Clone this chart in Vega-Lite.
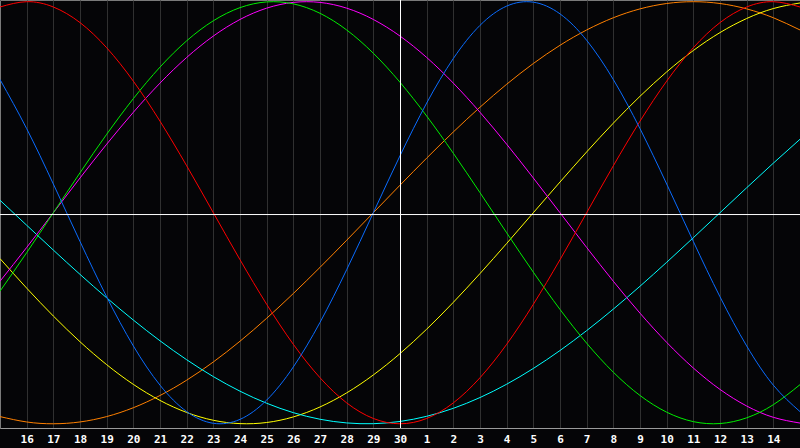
{
  "$schema": "https://vega.github.io/schema/vega-lite/v6.json",
  "width": 800,
  "height": 428,
  "autosize": "none",
  "padding": {"left": 0, "top": 0, "right": 0, "bottom": 20},
  "background": "#050507",
  "config": {"view": {"stroke": "#7a7a7a", "strokeWidth": 1}},
  "datasets": {
    "bio": [
      {"day": 0, "physical": 0.6311, "emotional": 0.9749, "intellectual": -0.3717, "intuitive": -0.3247, "aesthetic": -0.2174, "awareness": -0.9659, "spiritual": 0.0592},
      {"day": 1, "physical": 0.3984, "emotional": 1, "intellectual": -0.1893, "intuitive": -0.1646, "aesthetic": -0.3572, "awareness": -0.9914, "spiritual": -0.0592},
      {"day": 2, "physical": 0.1362, "emotional": 0.9749, "intellectual": 0, "intuitive": 0, "aesthetic": -0.4894, "awareness": -1, "spiritual": -0.1769},
      {"day": 3, "physical": -0.1362, "emotional": 0.901, "intellectual": 0.1893, "intuitive": 0.1646, "aesthetic": -0.6112, "awareness": -0.9914, "spiritual": -0.2921},
      {"day": 4, "physical": -0.3984, "emotional": 0.7818, "intellectual": 0.3717, "intuitive": 0.3247, "aesthetic": -0.7199, "awareness": -0.9659, "spiritual": -0.4031},
      {"day": 5, "physical": -0.6311, "emotional": 0.6235, "intellectual": 0.5406, "intuitive": 0.4759, "aesthetic": -0.8133, "awareness": -0.9239, "spiritual": -0.5085},
      {"day": 6, "physical": -0.817, "emotional": 0.4339, "intellectual": 0.6901, "intuitive": 0.6142, "aesthetic": -0.8893, "awareness": -0.866, "spiritual": -0.6068},
      {"day": 7, "physical": -0.9423, "emotional": 0.2225, "intellectual": 0.8146, "intuitive": 0.7357, "aesthetic": -0.9464, "awareness": -0.7934, "spiritual": -0.6965},
      {"day": 8, "physical": -0.9977, "emotional": 0, "intellectual": 0.9096, "intuitive": 0.8372, "aesthetic": -0.9834, "awareness": -0.7071, "spiritual": -0.7765},
      {"day": 9, "physical": -0.9791, "emotional": -0.2225, "intellectual": 0.9718, "intuitive": 0.9158, "aesthetic": -0.9993, "awareness": -0.6088, "spiritual": -0.8456},
      {"day": 10, "physical": -0.8879, "emotional": -0.4339, "intellectual": 0.9989, "intuitive": 0.9694, "aesthetic": -0.994, "awareness": -0.5, "spiritual": -0.9028},
      {"day": 11, "physical": -0.7308, "emotional": -0.6235, "intellectual": 0.9898, "intuitive": 0.9966, "aesthetic": -0.9675, "awareness": -0.3827, "spiritual": -0.9473},
      {"day": 12, "physical": -0.5196, "emotional": -0.7818, "intellectual": 0.945, "intuitive": 0.9966, "aesthetic": -0.9203, "awareness": -0.2588, "spiritual": -0.9786},
      {"day": 13, "physical": -0.2698, "emotional": -0.901, "intellectual": 0.866, "intuitive": 0.9694, "aesthetic": -0.8536, "awareness": -0.1305, "spiritual": -0.996},
      {"day": 14, "physical": 0, "emotional": -0.9749, "intellectual": 0.7557, "intuitive": 0.9158, "aesthetic": -0.7686, "awareness": 0, "spiritual": -0.9996},
      {"day": 15, "physical": 0.2698, "emotional": -1, "intellectual": 0.6182, "intuitive": 0.8372, "aesthetic": -0.6673, "awareness": 0.1305, "spiritual": -0.989},
      {"day": 16, "physical": 0.5196, "emotional": -0.9749, "intellectual": 0.4582, "intuitive": 0.7357, "aesthetic": -0.5518, "awareness": 0.2588, "spiritual": -0.9646},
      {"day": 17, "physical": 0.7308, "emotional": -0.901, "intellectual": 0.2817, "intuitive": 0.6142, "aesthetic": -0.4245, "awareness": 0.3827, "spiritual": -0.9267},
      {"day": 18, "physical": 0.8879, "emotional": -0.7818, "intellectual": 0.0951, "intuitive": 0.4759, "aesthetic": -0.2881, "awareness": 0.5, "spiritual": -0.8757},
      {"day": 19, "physical": 0.9791, "emotional": -0.6235, "intellectual": -0.0951, "intuitive": 0.3247, "aesthetic": -0.1456, "awareness": 0.6088, "spiritual": -0.8125},
      {"day": 20, "physical": 0.9977, "emotional": -0.4339, "intellectual": -0.2817, "intuitive": 0.1646, "aesthetic": 0, "awareness": 0.7071, "spiritual": -0.7378},
      {"day": 21, "physical": 0.9423, "emotional": -0.2225, "intellectual": -0.4582, "intuitive": 0, "aesthetic": 0.1456, "awareness": 0.7934, "spiritual": -0.6528},
      {"day": 22, "physical": 0.817, "emotional": 0, "intellectual": -0.6182, "intuitive": -0.1646, "aesthetic": 0.2881, "awareness": 0.866, "spiritual": -0.5586},
      {"day": 23, "physical": 0.6311, "emotional": 0.2225, "intellectual": -0.7557, "intuitive": -0.3247, "aesthetic": 0.4245, "awareness": 0.9239, "spiritual": -0.4566},
      {"day": 24, "physical": 0.3984, "emotional": 0.4339, "intellectual": -0.866, "intuitive": -0.4759, "aesthetic": 0.5518, "awareness": 0.9659, "spiritual": -0.3482},
      {"day": 25, "physical": 0.1362, "emotional": 0.6235, "intellectual": -0.945, "intuitive": -0.6142, "aesthetic": 0.6673, "awareness": 0.9914, "spiritual": -0.2349},
      {"day": 26, "physical": -0.1362, "emotional": 0.7818, "intellectual": -0.9898, "intuitive": -0.7357, "aesthetic": 0.7686, "awareness": 1, "spiritual": -0.1183},
      {"day": 27, "physical": -0.3984, "emotional": 0.901, "intellectual": -0.9989, "intuitive": -0.8372, "aesthetic": 0.8536, "awareness": 0.9914, "spiritual": 0},
      {"day": 28, "physical": -0.6311, "emotional": 0.9749, "intellectual": -0.9718, "intuitive": -0.9158, "aesthetic": 0.9203, "awareness": 0.9659, "spiritual": 0.1183},
      {"day": 29, "physical": -0.817, "emotional": 1, "intellectual": -0.9096, "intuitive": -0.9694, "aesthetic": 0.9675, "awareness": 0.9239, "spiritual": 0.2349},
      {"day": 30, "physical": -0.9423, "emotional": 0.9749, "intellectual": -0.8146, "intuitive": -0.9966, "aesthetic": 0.994, "awareness": 0.866, "spiritual": 0.3482}
    ]
  },
  "layer": [
    {
      "data": {"name": "bio"},
      "transform": [
        {"fold": ["awareness", "aesthetic", "spiritual", "intuitive", "intellectual", "emotional", "physical"], "as": ["cycle", "value"]}
      ],
      "mark": {"type": "line", "strokeWidth": 1, "interpolate": "natural"},
      "encoding": {
        "x": {
          "field": "day", "type": "quantitative",
          "scale": {"domain": [0, 30], "nice": false, "zero": false},
          "axis": {
            "values": [1, 2, 3, 4, 5, 6, 7, 8, 9, 10, 11, 12, 13, 14, 15, 16, 17, 18, 19, 20, 21, 22, 23, 24, 25, 26, 27, 28, 29],
            "labelExpr": "datum.value <= 15 ? datum.value + 15 : datum.value - 15",
            "title": null,
            "grid": true, "gridColor": "#303030", "gridWidth": 1,
            "ticks": false,
            "domainColor": "#9a9a9a",
            "labelColor": "#ffffff", "labelFont": "DejaVu Sans Mono", "labelFontWeight": "bold", "labelFontSize": 11,
            "labelPadding": 5, "labelFlush": false, "labelOverlap": false
          }
        },
        "y": {
          "field": "value", "type": "quantitative",
          "scale": {"domain": [-1.02, 1.008], "nice": false, "zero": false},
          "axis": null
        },
        "color": {
          "field": "cycle", "type": "nominal",
          "scale": {
            "domain": ["physical", "emotional", "intellectual", "intuitive", "aesthetic", "awareness", "spiritual"],
            "range": ["#0a6cff", "#ff0000", "#00ee00", "#ff00ff", "#ffff00", "#ff8000", "#00ffff"]
          },
          "legend": null
        }
      }
    },
    {
      "data": {"values": [{"day": 15}]},
      "mark": {"type": "rule", "color": "#ffffff", "strokeWidth": 1, "xOffset": 0.5},
      "encoding": {
        "x": {
          "field": "day", "type": "quantitative",
          "axis": {
            "values": [1, 2, 3, 4, 5, 6, 7, 8, 9, 10, 11, 12, 13, 14, 15, 16, 17, 18, 19, 20, 21, 22, 23, 24, 25, 26, 27, 28, 29],
            "labelExpr": "datum.value <= 15 ? datum.value + 15 : datum.value - 15",
            "title": null,
            "grid": true, "gridColor": "#303030", "gridWidth": 1,
            "ticks": false,
            "domainColor": "#9a9a9a",
            "labelColor": "#ffffff", "labelFont": "DejaVu Sans Mono", "labelFontWeight": "bold", "labelFontSize": 11,
            "labelPadding": 5, "labelFlush": false, "labelOverlap": false
          }
        }
      }
    },
    {
      "data": {"values": [{"value": 0}]},
      "mark": {"type": "rule", "color": "#ffffff", "strokeWidth": 1, "yOffset": 1.8},
      "encoding": {"y": {"field": "value", "type": "quantitative", "axis": null}}
    }
  ]
}
